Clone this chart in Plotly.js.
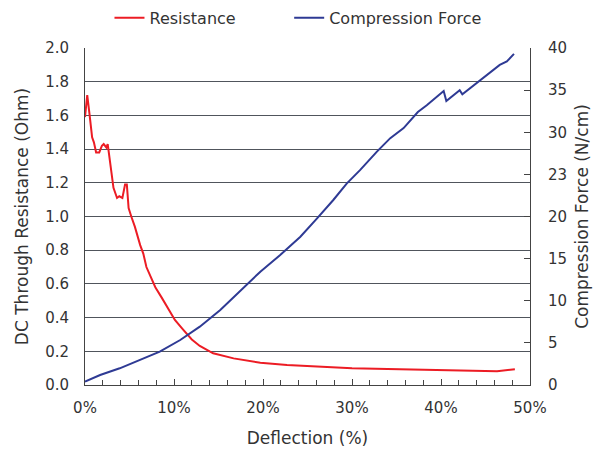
<!DOCTYPE html>
<html>
<head>
<meta charset="utf-8">
<script src="https://cdn.plot.ly/plotly-3.0.1.min.js"></script>
<style>html,body{margin:0;padding:0;background:#fff;}#chart{width:595px;height:449px;}</style>
</head>
<body>
<div id="chart"></div>
<script>
// Resistance (Ohm) vs deflection (%)
const resDeflection = [0, 0.25, 0.5, 0.8, 1.0, 1.25, 1.6, 1.9, 2.1, 2.4, 2.55, 2.8, 3.2, 3.6, 3.85, 4.2, 4.5, 4.7, 4.9, 5.2, 5.6, 6.2, 6.55, 6.9, 7.5, 7.9, 8.6, 9.4, 10.1, 11.0, 12.0, 12.9, 14.4, 16.7, 19.7, 22.7, 26.4, 30, 34, 38.8, 42, 46.3, 48.3];
const resistance = [1.59, 1.72, 1.61, 1.47, 1.44, 1.38, 1.38, 1.42, 1.43, 1.41, 1.43, 1.32, 1.17, 1.11, 1.12, 1.11, 1.19, 1.19, 1.05, 1.0, 0.94, 0.83, 0.78, 0.70, 0.63, 0.58, 0.52, 0.445, 0.386, 0.33, 0.27, 0.232, 0.188, 0.158, 0.132, 0.119, 0.109, 0.10, 0.095, 0.089, 0.088, 0.082, 0.093];

// Compression force (N/cm) vs deflection (%)
const forceDeflection = [0, 1.7, 3.9, 6.2, 8.4, 10.7, 12.9, 15.2, 17.4, 19.7, 21.9, 24.2, 26.1, 27.9, 29.4, 30.9, 32.8, 34.3, 35.8, 37.4, 38.4, 40.3, 40.6, 42.1, 42.4, 44.0, 45.5, 46.6, 47.4, 48.2];
const force = [0.4, 1.19, 1.98, 2.97, 3.95, 5.34, 6.92, 8.9, 11.07, 13.45, 15.4, 17.6, 19.8, 21.96, 23.9, 25.5, 27.7, 29.3, 30.5, 32.4, 33.2, 34.9, 33.7, 35.0, 34.5, 35.8, 37.0, 38.0, 38.4, 39.3];

// Tick labels
const xTickVals = [0, 10, 20, 30, 40, 50];
const xTickText = ['0%', '10%', '20%', '30%', '40%', '50%'];
const y2TickVals = [0, 5, 10, 15, 20, 25, 30, 35, 40];
const y2TickText = ['0', '5', '10', '15', '20', '23', '30', '35', '40'];

const txt = '#333333';
const fontFam = 'DejaVu Sans, sans-serif';

const traces = [
  {x: resDeflection, y: resistance, name: 'Resistance', type: 'scatter', mode: 'lines',
   line: {color: '#ec1c24', width: 2}, yaxis: 'y', legend: 'legend'},
  {x: forceDeflection, y: force, name: 'Compression Force', type: 'scatter', mode: 'lines',
   line: {color: '#2e3a94', width: 2}, yaxis: 'y2', legend: 'legend2'}
];

const legendBase = {orientation: 'h', xref: 'container', yref: 'container',
                    xanchor: 'left', y: 0.96, yanchor: 'middle',
                    font: {size: 16, color: txt}, bgcolor: 'rgba(0,0,0,0)'};

const layout = {
  width: 595, height: 449,
  margin: {l: 85, r: 65, t: 48, b: 64},
  paper_bgcolor: '#fff', plot_bgcolor: '#fff',
  font: {family: fontFam, size: 15, color: txt},
  showlegend: true,
  legend: Object.assign({}, legendBase, {x: 0.184}),
  legend2: Object.assign({}, legendBase, {x: 0.486}),
  xaxis: {range: [0, 50], tickvals: xTickVals, ticktext: xTickText, automargin: false,
          showline: true, linecolor: '#444', linewidth: 1, mirror: false,
          ticks: 'inside', ticklen: 6, tickcolor: '#444', ticklabelstandoff: 9,
          minor: {dtick: 2, ticks: 'inside', ticklen: 5, tickcolor: '#444'},
          showgrid: false, zeroline: false,
          title: {text: 'Deflection (%)', font: {size: 17, color: txt}, standoff: 16},
          tickfont: {size: 15, color: txt}},
  yaxis: {range: [0, 2], dtick: 0.2, tickformat: '.1f', automargin: false,
          showline: true, linecolor: '#444', linewidth: 1, ticklabelstandoff: 12,
          showgrid: true, gridcolor: '#50555c', gridwidth: 1, zeroline: false,
          ticks: '', title: {text: 'DC Through Resistance (Ohm)', font: {size: 17, color: txt}, standoff: 12},
          tickfont: {size: 15, color: txt}},
  yaxis2: {range: [0, 40], overlaying: 'y', side: 'right', automargin: false,
           tickvals: y2TickVals, ticktext: y2TickText, ticklabelstandoff: 14,
           showline: true, linecolor: '#444', linewidth: 1,
           showgrid: false, zeroline: false,
           ticks: 'inside', ticklen: 6, tickcolor: '#444',
           title: {text: 'Compression Force (N/cm)', font: {size: 17, color: txt}, standoff: 10},
           tickfont: {size: 15, color: txt}}
};

Plotly.newPlot('chart', traces, layout, {displayModeBar: false, staticPlot: true});
</script>
</body>
</html>
